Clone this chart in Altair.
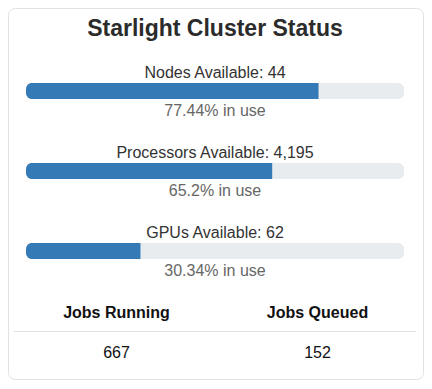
import altair as alt
import pandas as pd

# ---- data ----
title_text = "Starlight Cluster Status"
resources = ["Nodes", "Processors", "GPUs"]
available = [44, 4195, 62]
pct_in_use = [77.44, 65.2, 30.34]
job_labels = ["Jobs Running", "Jobs Queued"]
job_values = [667, 152]

res_df = pd.DataFrame({
    "resource": resources,
    "available": available,
    "pct": pct_in_use,
})
res_df["label"] = [f"{r} Available: {a:,}" for r, a in zip(resources, available)]
res_df["pct_label"] = [f"{p:g}% in use" for p in pct_in_use]
res_df["full"] = 100

jobs_df = pd.DataFrame({"label": job_labels, "value": [str(v) for v in job_values]})

W, H = 416, 373
FONT = "Liberation Sans"

xscale = alt.Scale(domain=[0, 100], range=[18, 396], nice=False, zero=True)
yscale = alt.Scale(domain=resources, range=[43, 283], paddingInner=0, paddingOuter=0)
jx = alt.Scale(domain=job_labels, range=[8, 410], padding=0.5)

one = pd.DataFrame({"t": [title_text]})

card = alt.Chart(one).mark_rect(
    fill="white", stroke="#dee2e6", strokeWidth=1, cornerRadius=7
).encode(
    x=alt.value(0.5), x2=alt.value(415.5), y=alt.value(0.5), y2=alt.value(371.5)
)

title = alt.Chart(one).mark_text(
    font=FONT, fontSize=23, fontWeight="bold", color="#2b2b2b",
    align="center", baseline="alphabetic"
).encode(x=alt.value(207), y=alt.value(28), text="t:N")

track = alt.Chart(res_df).mark_bar(
    size=16, color="#e9ecef", cornerRadius=6
).encode(
    x=alt.X("full:Q", scale=xscale, axis=None),
    y=alt.Y("resource:N", scale=yscale, axis=None),
)

fill = alt.Chart(res_df).mark_bar(
    size=16, color="#337ab7", cornerRadiusTopLeft=6, cornerRadiusBottomLeft=6,
    cornerRadiusTopRight=0, cornerRadiusBottomRight=0
).encode(
    x=alt.X("pct:Q", scale=xscale, axis=None),
    y=alt.Y("resource:N", scale=yscale, axis=None),
)

labels = alt.Chart(res_df).mark_text(
    font=FONT, fontSize=16, color="#333333", align="center",
    baseline="alphabetic", dy=-13.5
).encode(
    x=alt.X(datum=50, scale=xscale, axis=None),
    y=alt.Y("resource:N", scale=yscale, axis=None),
    text="label:N",
)

pcts = alt.Chart(res_df).mark_text(
    font=FONT, fontSize=16, color="#666666", align="center",
    baseline="alphabetic", dy=25
).encode(
    x=alt.X(datum=50, scale=xscale, axis=None),
    y=alt.Y("resource:N", scale=yscale, axis=None),
    text="pct_label:N",
)

heads = alt.Chart(jobs_df).mark_text(
    font=FONT, fontSize=16, fontWeight="bold", color="#111111",
    align="center", baseline="alphabetic"
).encode(
    x=alt.X("label:N", scale=jx, axis=None),
    y=alt.value(309.5),
    text="label:N",
)

rule = alt.Chart(one).mark_rule(color="#dee2e6", strokeWidth=1).encode(
    x=alt.value(6), x2=alt.value(408), y=alt.value(323.5)
)

vals = alt.Chart(jobs_df).mark_text(
    font=FONT, fontSize=16, color="#111111",
    align="center", baseline="alphabetic"
).encode(
    x=alt.X("label:N", scale=jx, axis=None),
    y=alt.value(350),
    text="value:N",
)

chart = alt.layer(
    card, title, track, fill, labels, pcts, heads, rule, vals
).resolve_scale(x="independent").properties(
    width=W, height=H, padding=0, autosize=alt.AutoSizeParams(type="none")
).configure_view(stroke=None)

chart.save("out.html", embed_options={"renderer": "svg", "actions": False})
